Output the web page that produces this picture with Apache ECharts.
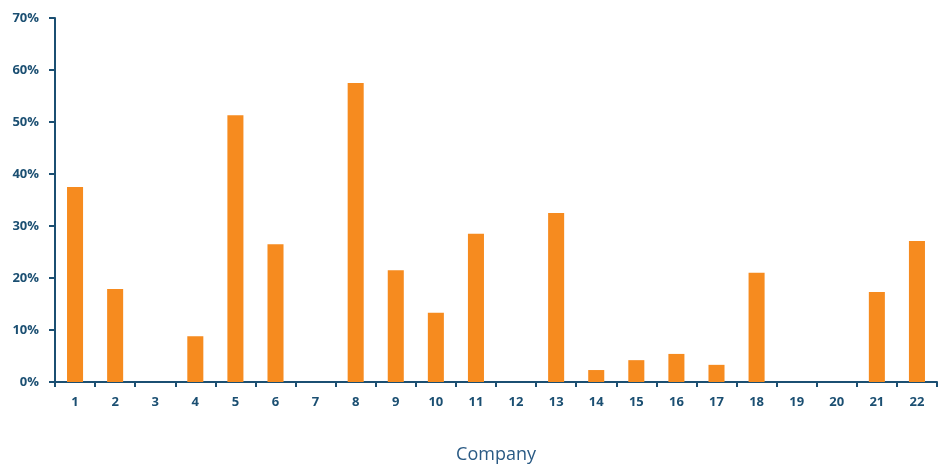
<!DOCTYPE html>
<html><head><meta charset="utf-8">
<script src="https://cdn.jsdelivr.net/npm/echarts@6/dist/echarts.min.js"></script>
<style>html,body{margin:0;padding:0;background:#fff;overflow:hidden}#c{width:946px;height:464px}</style>
</head><body><div id="c"></div>
<script>
const categories = ['1','2','3','4','5','6','7','8','9','10','11','12','13','14','15','16','17','18','19','20','21','22'];
const values = [37.5, 17.9, 0, 8.8, 51.3, 26.5, 0, 57.5, 21.5, 13.3, 28.5, 0, 32.5, 2.3, 4.2, 5.4, 3.3, 21.0, 0, 0, 17.3, 27.1];
const yTicks = [0, 10, 20, 30, 40, 50, 60, 70];
const xAxisName = 'Company';

const axisColor = '#1b4f72';
const chart = echarts.init(document.getElementById('c'), null, {renderer: 'canvas', width: 946, height: 464});
chart.setOption({
  animation: false,
  grid: {left: 55, right: 9, top: 18, bottom: 82, containLabel: false, outerBoundsMode: 'none'},
  xAxis: {
    type: 'category', data: categories,
    name: xAxisName, nameLocation: 'middle', nameGap: 64,
    nameTextStyle: {fontFamily: 'Open Sans', fontSize: 18, color: '#2a5a84'},
    axisLine: {lineStyle: {color: axisColor, width: 2}},
    axisTick: {show: true, length: 5, lineStyle: {color: axisColor, width: 2}},
    axisLabel: {fontFamily: 'Open Sans', fontWeight: 'bold', fontSize: 13, color: axisColor, margin: 14}
  },
  yAxis: {
    type: 'value', min: 0, max: 70, interval: 10,
    axisLine: {show: true, lineStyle: {color: axisColor, width: 2}},
    axisTick: {show: true, length: 6, lineStyle: {color: axisColor, width: 2}},
    splitLine: {show: false},
    axisLabel: {fontFamily: 'Open Sans', fontWeight: 'bold', fontSize: 13, color: axisColor, margin: 16,
      formatter: v => yTicks.includes(v) ? v + '%' : ''}
  },
  series: [{
    type: 'bar', data: values, barWidth: '40%',
    itemStyle: {color: '#f68b1f'}
  }]
});
</script></body></html>
